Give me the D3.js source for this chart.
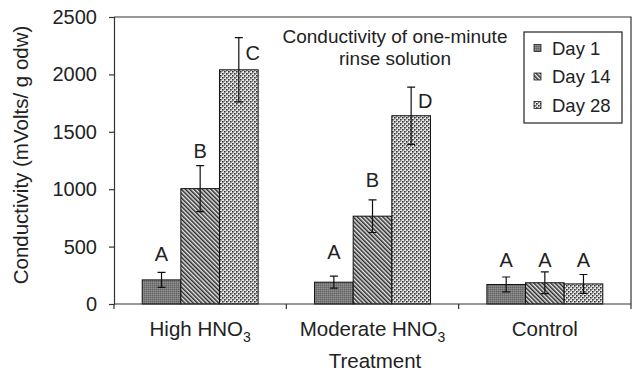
<!DOCTYPE html>
<html>
<head>
  <script src="https://d3js.org/d3.v7.min.js"></script>
  <style>
    body { margin: 0; background: #fff; }
    text { font-family: "Liberation Sans", Arial, sans-serif; fill: #222; }
  </style>
</head>
<body>
<div id="chart"></div>
<script>
    // chart values
    var treatments = ["High", "Moderate", "Control"];
    var days = ["Day 1", "Day 14", "Day 28"];
    var day1 = [210, 190, 170];
    var day14 = [1005, 765, 185];
    var day28 = [2040, 1640, 175];
    var err1 = [65, 52, 65];
    var err14 = [200, 142, 95];
    var err28 = [280, 250, 82];
    var letters1 = ["A", "A", "A"];
    var letters14 = ["B", "B", "A"];
    var letters28 = ["C", "D", "A"];
    // height (in data units) where each letter sits
    var letterAt1 = [375, 392, 322];
    var letterAt14 = [1270, 1020, 322];
    var letterAt28 = [2125, 1705, 322];
    var yTicks = [0, 500, 1000, 1500, 2000, 2500];

    var means = [day1, day14, day28];
    var errs = [err1, err14, err28];
    var letters = [letters1, letters14, letters28];
    var letterAt = [letterAt1, letterAt14, letterAt28];

    var svg = d3.select("#chart")
                .append("svg")
                .attr("width", 634)
                .attr("height", 372);

    var margin = { top: 17, right: 3, bottom: 68, left: 114 };
    var width = 634 - margin.left - margin.right;
    var height = 372 - margin.top - margin.bottom;

    var defs = svg.append("defs");

    // Day 1: fine dark grey stipple
    var p1 = defs.append("pattern").attr("id", "pat0")
                 .attr("patternUnits", "userSpaceOnUse")
                 .attr("width", 2).attr("height", 2);
    p1.append("rect").attr("width", 2).attr("height", 2).attr("fill", "#7c7c7c");
    p1.append("rect").attr("width", 1).attr("height", 1).attr("fill", "#646464");
    p1.append("rect").attr("x", 1).attr("y", 1).attr("width", 1).attr("height", 1).attr("fill", "#8e8e8e");

    // Day 14: diagonal hatching
    var p2 = defs.append("pattern").attr("id", "pat1")
                 .attr("patternUnits", "userSpaceOnUse")
                 .attr("width", 3).attr("height", 3)
                 .attr("patternTransform", "rotate(-45)");
    p2.append("rect").attr("width", 3).attr("height", 3).attr("fill", "#e6e6e6");
    p2.append("rect").attr("width", 1.5).attr("height", 3).attr("fill", "#2a2a2a");

    // Day 28: light dotted
    var p3 = defs.append("pattern").attr("id", "pat2")
                 .attr("patternUnits", "userSpaceOnUse")
                 .attr("width", 4).attr("height", 4);
    p3.append("rect").attr("width", 4).attr("height", 4).attr("fill", "#e9e9e9");
    p3.append("rect").attr("width", 1.6).attr("height", 1.6).attr("fill", "#2e2e2e");
    p3.append("rect").attr("x", 2).attr("y", 2).attr("width", 1.6).attr("height", 1.6).attr("fill", "#2e2e2e");
    p3.append("rect").attr("x", 2).attr("y", 0).attr("width", 1).attr("height", 1).attr("fill", "#8a8a8a");
    p3.append("rect").attr("x", 0).attr("y", 2).attr("width", 1).attr("height", 1).attr("fill", "#aaaaaa");

    var g = svg.append("g").attr("transform", `translate(${margin.left}, ${margin.top})`);

    var xScale = d3.scaleBand()
                   .domain(treatments)
                   .range([0, width])
                   .paddingInner(0).paddingOuter(0);

    var xInner = d3.scaleBand()
                   .domain(days)
                   .range([0, xScale.bandwidth()])
                   .paddingInner(0).paddingOuter(0.73);

    var yScale = d3.scaleLinear()
                   .domain([0, 2500])
                   .range([height, 0]);

    // frame (top and right)
    g.append("path")
     .attr("d", `M0,0H${width}V${height}`)
     .attr("fill", "none").attr("stroke", "#333").attr("stroke-width", 1.2);

    // bars
    days.forEach(function(day, s) {
      var rows = treatments.map((t, i) => ({ t: t, v: means[s][i], e: errs[s][i], l: letters[s][i], at: letterAt[s][i] }));
      var grp = g.append("g");

      grp.selectAll("rect")
         .data(rows)
         .enter().append("rect")
         .attr("x", d => xScale(d.t) + xInner(day))
         .attr("y", d => yScale(d.v))
         .attr("width", xInner.bandwidth())
         .attr("height", d => height - yScale(d.v))
         .attr("fill", `url(#pat${s})`)
         .attr("stroke", "#111").attr("stroke-width", 1);

      var cx = d => xScale(d.t) + xInner(day) + xInner.bandwidth() / 2;

      grp.selectAll(".err")
         .data(rows)
         .enter().append("path")
         .attr("class", "err")
         .attr("d", d => `M${cx(d)},${yScale(d.v - d.e)}V${yScale(d.v + d.e)}` +
                         `M${cx(d) - 4},${yScale(d.v - d.e)}H${cx(d) + 4}` +
                         `M${cx(d) - 4},${yScale(d.v + d.e)}H${cx(d) + 4}`)
         .attr("fill", "none").attr("stroke", "#111").attr("stroke-width", 1.2);

      grp.selectAll(".letter")
         .data(rows)
         .enter().append("text")
         .attr("class", "letter")
         .attr("x", d => cx(d) + ((d.l === "C" || d.l === "D") ? 14 : 0))
         .attr("y", d => yScale(d.at))
         .attr("text-anchor", "middle")
         .style("font-size", "20px")
         .text(d => d.l);
    });

    // y axis
    var yAxis = g.append("g")
       .call(d3.axisLeft(yScale).tickValues(yTicks).tickSize(5).tickPadding(12).tickFormat(d3.format("d")));
    yAxis.select(".domain").attr("stroke", "#333").attr("stroke-width", 1.2);
    yAxis.selectAll(".tick line").attr("stroke", "#333").attr("stroke-width", 1.2);
    yAxis.selectAll(".tick text").style("font-size", "20px").attr("fill", "#222");

    // x axis with ticks at category boundaries
    var xAxis = g.append("g")
       .attr("transform", `translate(0, ${height})`);
    xAxis.append("line").attr("x1", 0).attr("x2", width)
         .attr("stroke", "#333").attr("stroke-width", 1.2);
    xAxis.selectAll(".bt")
         .data(treatments.concat(["end"]))
         .enter().append("line")
         .attr("x1", (d, i) => i < treatments.length ? xScale(d) : width)
         .attr("x2", (d, i) => i < treatments.length ? xScale(d) : width)
         .attr("y1", 0).attr("y2", 5)
         .attr("stroke", "#333").attr("stroke-width", 1.2);

    var catLabels = xAxis.selectAll(".cat")
         .data(treatments)
         .enter().append("text")
         .attr("x", d => xScale(d) + xScale.bandwidth() / 2)
         .attr("y", 32)
         .attr("text-anchor", "middle")
         .style("font-size", "20.5px");
    catLabels.each(function(d) {
      var t = d3.select(this);
      if (d === "Control") {
        t.text(d);
      } else {
        t.append("tspan").text(d + " HNO");
        t.append("tspan").attr("dy", 6).style("font-size", "14px").text("3");
      }
    });

    // axis titles
    svg.append("text")
       .attr("x", 375)
       .attr("y", 368)
       .attr("text-anchor", "middle")
       .style("font-size", "20.5px")
       .text("Treatment");

    svg.append("text")
       .attr("transform", "rotate(-90)")
       .attr("x", -155)
       .attr("y", 28)
       .attr("text-anchor", "middle")
       .style("font-size", "20.5px")
       .text("Conductivity (mVolts/ g odw)");

    // chart title
    var title = svg.append("text")
       .attr("y", 43)
       .attr("text-anchor", "middle")
       .style("font-size", "19px");
    title.append("tspan").attr("x", 395).text("Conductivity of one-minute");
    title.append("tspan").attr("x", 395).attr("dy", 22).text("rinse solution");

    // legend
    var legend = svg.append("g").attr("transform", "translate(524, 32)");
    legend.append("rect")
          .attr("width", 98).attr("height", 91)
          .attr("fill", "#fff").attr("stroke", "#222").attr("stroke-width", 1.2);
    var items = legend.selectAll(".item")
          .data(days)
          .enter().append("g")
          .attr("transform", (d, i) => `translate(10, ${16 + i * 28.5})`);
    items.append("rect")
         .attr("x", 0).attr("y", -3.5).attr("width", 7).attr("height", 7)
         .attr("fill", (d, i) => `url(#pat${i})`)
         .attr("stroke", "#222").attr("stroke-width", 0.8);
    items.append("text")
         .attr("x", 18).attr("y", 6.5)
         .style("font-size", "18.5px")
         .text(d => d);
</script>
</body>
</html>
